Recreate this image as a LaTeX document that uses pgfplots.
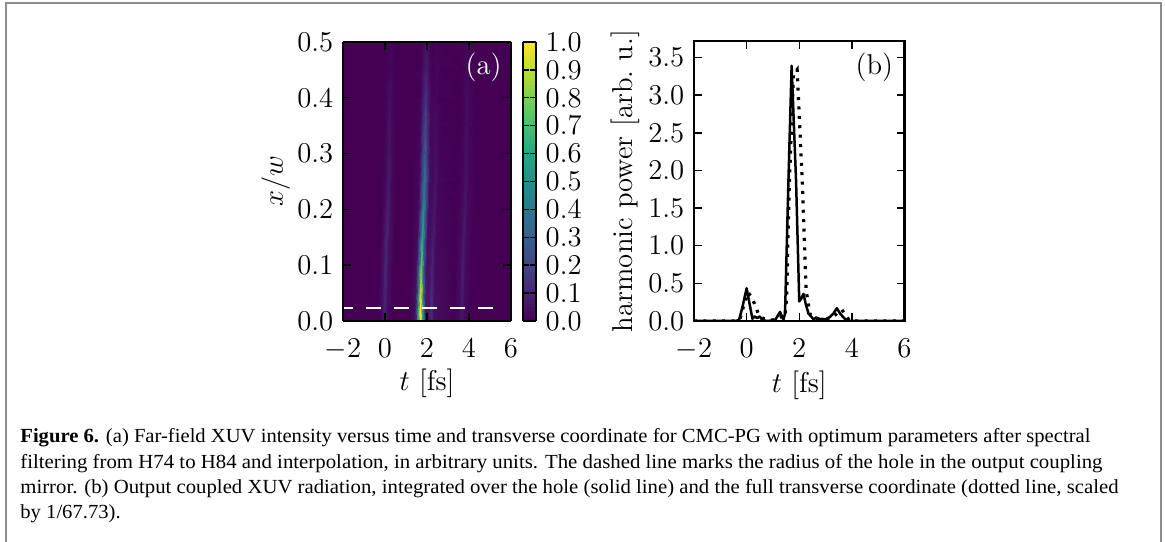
\documentclass[border=0pt]{standalone}
\usepackage{fontspec}
\usepackage{graphicx}
\usepackage{pgfplots}
\pgfplotsset{compat=1.18}
\newfontfamily\capfont{Liberation Serif}
\definecolor{framegray}{RGB}{140,140,140}
\newcommand\axfont{\fontsize{14.4pt}{16pt}\selectfont}
\pgfplotsset{
  colormap={myvir}{rgb255=(68,1,84) rgb255=(72,36,117) rgb255=(65,68,135) rgb255=(53,95,141) rgb255=(42,120,142) rgb255=(33,145,140) rgb255=(34,168,132) rgb255=(68,191,112) rgb255=(122,209,81) rgb255=(189,223,38) rgb255=(253,231,37)},
  every axis/.append style={font=\axfont},
  mystyle/.style={
    scale only axis,
    tick align=inside,
    major tick length=4bp,
    axis line style={line width=1.1bp},
    every tick/.style={line width=0.7bp, black},
    tick label style={font=\axfont, inner sep=1bp},
    label style={font=\axfont},
    xtick={-2,0,2,4,6},
    xticklabel style={yshift=-7.8bp},
  }
}
\newsavebox\capone
\newlength\capw
\begin{document}
\sbox\capone{\capfont\fontsize{10bp}{12bp}\selectfont\textbf{Figure 6.} (a) Far-field XUV intensity versus time and transverse coordinate for CMC-PG with optimum parameters after spectral}%
\setlength\capw{\wd\capone}%
\pgfmathsetmacro\capr{536.99/\capw}%
\begin{tikzpicture}
\useasboundingbox (0,0) rectangle (582.5bp,271bp);
\draw[line width=1bp, framegray] (3bp,-1bp) -- (3bp,269.25bp) -- (580.5bp,269.25bp) -- (580.5bp,-1bp);

% ---------------- panel (a) ----------------
\begin{axis}[mystyle,
  at={(171.5bp,110.5bp)}, anchor=south west,
  width=84bp, height=139.5bp,
  view={0}{90},
  xmin=-2, xmax=6, ymin=0, ymax=0.5,
  ytick={0,0.1,0.2,0.3,0.4,0.5},
  yticklabel style={xshift=-3.7bp, /pgf/number format/.cd,fixed,fixed zerofill,precision=1},
  axis on top,
  colormap name=myvir, point meta min=0, point meta max=1,
  colorbar sampled,
  colorbar style={at={(parent axis.north east)}, anchor=north west, xshift=-2.7bp, width=6.65bp,
    samples=80,
    ytick={0,0.1,0.2,0.3,0.4,0.5,0.6,0.7,0.8,0.9,1.0},
    tick label style={font=\axfont, inner sep=1bp},
    yticklabel style={xshift=3.7bp, /pgf/number format/.cd,fixed,fixed zerofill,precision=1},
    yticklabel pos=right, tick align=inside, major tick length=3bp,
    axis line style={line width=1.1bp},
    every tick/.style={line width=0.7bp, black}},
  xlabel={$t$ [fs]}, ylabel={$x/w$},
  xlabel style={at={(axis description cs:0.5,-0.222)}, anchor=center},
  ylabel style={at={(axis description cs:-0.40,0.5)}, anchor=center},
]
\addplot3[surf, shader=interp, mesh/cols=21, mesh/color input=explicit, point meta=explicit symbolic] table[row sep=\\, x=t, y=x, z=v, meta=c] {
t x v c\\
-2 0 0 rgb255=68,1,84\\ -0.30 0 0 rgb255=68,1,84\\ -0.12 0 0.028 rgb255=69,11,93\\ 0.00 0 0.07 rgb255=71,26,107\\ 0.12 0 0.028 rgb255=69,11,93\\ 0.35 0 0 rgb255=68,1,84\\ 1.20 0 0 rgb255=68,1,84\\ 1.45 0 0.04 rgb255=70,15,97\\ 1.58 0 0.48 rgb255=35,140,140\\ 1.70 0 1.00 rgb255=253,231,37\\ 1.82 0 0.48 rgb255=35,140,140\\ 1.95 0 0.06 rgb255=70,22,104\\ 2.10 0 0.06 rgb255=70,22,104\\ 2.22 0 0.12 rgb255=71,42,121\\ 2.36 0 0.036 rgb255=69,14,96\\ 3.30 0 0 rgb255=68,1,84\\ 3.55 0 0.022 rgb255=69,9,91\\ 3.67 0 0.056 rgb255=70,21,102\\ 3.80 0 0.022 rgb255=69,9,91\\ 4.10 0 0 rgb255=68,1,84\\ 6 0 0 rgb255=68,1,84\\
-2 0.025 0 rgb255=68,1,84\\ -0.29 0.025 0 rgb255=68,1,84\\ -0.11 0.025 0.036 rgb255=69,14,96\\ 0.01 0.025 0.09 rgb255=72,33,114\\ 0.13 0.025 0.036 rgb255=69,14,96\\ 0.36 0.025 0 rgb255=68,1,84\\ 1.21 0.025 0 rgb255=68,1,84\\ 1.46 0.025 0.04 rgb255=70,15,97\\ 1.59 0.025 0.48 rgb255=35,140,140\\ 1.71 0.025 1.00 rgb255=253,231,37\\ 1.83 0.025 0.48 rgb255=35,140,140\\ 1.96 0.025 0.06 rgb255=70,22,104\\ 2.11 0.025 0.065 rgb255=71,24,105\\ 2.23 0.025 0.13 rgb255=70,46,122\\ 2.37 0.025 0.039 rgb255=70,15,97\\ 3.31 0.025 0 rgb255=68,1,84\\ 3.56 0.025 0.028 rgb255=69,11,93\\ 3.68 0.025 0.07 rgb255=71,26,107\\ 3.81 0.025 0.028 rgb255=69,11,93\\ 4.11 0.025 0 rgb255=68,1,84\\ 6 0.025 0 rgb255=68,1,84\\
-2 0.05 0 rgb255=68,1,84\\ -0.28 0.05 0 rgb255=68,1,84\\ -0.10 0.05 0.042 rgb255=70,16,98\\ 0.02 0.05 0.105 rgb255=72,38,118\\ 0.14 0.05 0.042 rgb255=70,16,98\\ 0.37 0.05 0 rgb255=68,1,84\\ 1.22 0.05 0 rgb255=68,1,84\\ 1.47 0.05 0.037 rgb255=69,14,96\\ 1.60 0.05 0.38 rgb255=45,115,142\\ 1.72 0.05 0.92 rgb255=202,225,38\\ 1.84 0.05 0.38 rgb255=45,115,142\\ 1.97 0.05 0.055 rgb255=70,20,102\\ 2.12 0.05 0.06 rgb255=70,22,104\\ 2.24 0.05 0.12 rgb255=71,42,121\\ 2.38 0.05 0.036 rgb255=69,14,96\\ 3.32 0.05 0 rgb255=68,1,84\\ 3.57 0.05 0.031 rgb255=69,12,94\\ 3.69 0.05 0.077 rgb255=71,28,109\\ 3.82 0.05 0.031 rgb255=69,12,94\\ 4.12 0.05 0 rgb255=68,1,84\\ 6 0.05 0 rgb255=68,1,84\\
-2 0.1 0 rgb255=68,1,84\\ -0.25 0.1 0 rgb255=68,1,84\\ -0.07 0.1 0.042 rgb255=70,16,98\\ 0.05 0.1 0.105 rgb255=72,38,118\\ 0.17 0.1 0.042 rgb255=70,16,98\\ 0.40 0.1 0 rgb255=68,1,84\\ 1.25 0.1 0 rgb255=68,1,84\\ 1.50 0.1 0.03 rgb255=69,12,94\\ 1.63 0.1 0.26 rgb255=58,84,139\\ 1.75 0.1 0.74 rgb255=90,198,100\\ 1.87 0.1 0.26 rgb255=58,84,139\\ 2.00 0.1 0.044 rgb255=70,16,99\\ 2.15 0.1 0.05 rgb255=70,19,101\\ 2.27 0.1 0.10 rgb255=72,36,117\\ 2.41 0.1 0.03 rgb255=69,12,94\\ 3.35 0.1 0 rgb255=68,1,84\\ 3.60 0.1 0.031 rgb255=69,12,94\\ 3.72 0.1 0.077 rgb255=71,28,109\\ 3.85 0.1 0.031 rgb255=69,12,94\\ 4.15 0.1 0 rgb255=68,1,84\\ 6 0.1 0 rgb255=68,1,84\\
-2 0.15 0 rgb255=68,1,84\\ -0.20 0.15 0 rgb255=68,1,84\\ -0.02 0.15 0.039 rgb255=70,15,97\\ 0.10 0.15 0.098 rgb255=72,35,116\\ 0.22 0.15 0.039 rgb255=70,15,97\\ 0.45 0.15 0 rgb255=68,1,84\\ 1.30 0.15 0 rgb255=68,1,84\\ 1.55 0.15 0.024 rgb255=69,9,92\\ 1.68 0.15 0.24 rgb255=60,79,137\\ 1.80 0.15 0.60 rgb255=34,168,132\\ 1.92 0.15 0.24 rgb255=60,79,137\\ 2.05 0.15 0.036 rgb255=69,14,96\\ 2.20 0.15 0.04 rgb255=70,15,97\\ 2.32 0.15 0.08 rgb255=71,29,110\\ 2.46 0.15 0.024 rgb255=69,9,92\\ 3.40 0.15 0 rgb255=68,1,84\\ 3.65 0.15 0.028 rgb255=69,11,93\\ 3.77 0.15 0.07 rgb255=71,26,107\\ 3.90 0.15 0.028 rgb255=69,11,93\\ 4.20 0.15 0 rgb255=68,1,84\\ 6 0.15 0 rgb255=68,1,84\\
-2 0.2 0 rgb255=68,1,84\\ -0.14 0.2 0 rgb255=68,1,84\\ 0.04 0.2 0.036 rgb255=69,14,96\\ 0.16 0.2 0.09 rgb255=72,33,114\\ 0.28 0.2 0.036 rgb255=69,14,96\\ 0.51 0.2 0 rgb255=68,1,84\\ 1.36 0.2 0 rgb255=68,1,84\\ 1.61 0.2 0.02 rgb255=69,8,91\\ 1.74 0.2 0.216 rgb255=63,72,136\\ 1.86 0.2 0.48 rgb255=35,140,140\\ 1.98 0.2 0.216 rgb255=63,72,136\\ 2.11 0.2 0.03 rgb255=69,12,94\\ 2.26 0.2 0.03 rgb255=69,12,94\\ 2.38 0.2 0.06 rgb255=70,22,104\\ 2.52 0.2 0.018 rgb255=69,7,90\\ 3.46 0.2 0 rgb255=68,1,84\\ 3.71 0.2 0.025 rgb255=69,10,92\\ 3.83 0.2 0.063 rgb255=71,23,105\\ 3.96 0.2 0.025 rgb255=69,10,92\\ 4.26 0.2 0 rgb255=68,1,84\\ 6 0.2 0 rgb255=68,1,84\\
-2 0.25 0 rgb255=68,1,84\\ -0.10 0.25 0 rgb255=68,1,84\\ 0.08 0.25 0.031 rgb255=69,12,94\\ 0.20 0.25 0.077 rgb255=71,28,109\\ 0.32 0.25 0.031 rgb255=69,12,94\\ 0.55 0.25 0 rgb255=68,1,84\\ 1.40 0.25 0 rgb255=68,1,84\\ 1.65 0.25 0.019 rgb255=69,8,90\\ 1.78 0.25 0.19 rgb255=66,65,133\\ 1.90 0.25 0.38 rgb255=45,115,142\\ 2.02 0.25 0.19 rgb255=66,65,133\\ 2.15 0.25 0.03 rgb255=69,12,94\\ 2.30 0.25 0.025 rgb255=69,10,92\\ 2.42 0.25 0.05 rgb255=70,19,101\\ 2.56 0.25 0.015 rgb255=69,6,89\\ 3.50 0.25 0 rgb255=68,1,84\\ 3.75 0.25 0.02 rgb255=69,8,91\\ 3.87 0.25 0.049 rgb255=70,18,100\\ 4.00 0.25 0.02 rgb255=69,8,91\\ 4.30 0.25 0 rgb255=68,1,84\\ 6 0.25 0 rgb255=68,1,84\\
-2 0.3 0 rgb255=68,1,84\\ -0.08 0.3 0 rgb255=68,1,84\\ 0.10 0.3 0.025 rgb255=69,10,92\\ 0.22 0.3 0.063 rgb255=71,23,105\\ 0.34 0.3 0.025 rgb255=69,10,92\\ 0.57 0.3 0 rgb255=68,1,84\\ 1.42 0.3 0 rgb255=68,1,84\\ 1.67 0.3 0.015 rgb255=69,6,89\\ 1.80 0.3 0.145 rgb255=69,50,125\\ 1.92 0.3 0.29 rgb255=54,92,140\\ 2.04 0.3 0.145 rgb255=69,50,125\\ 2.17 0.3 0.023 rgb255=69,9,92\\ 2.32 0.3 0.02 rgb255=69,8,91\\ 2.44 0.3 0.04 rgb255=70,15,97\\ 2.58 0.3 0.012 rgb255=68,5,88\\ 3.52 0.3 0 rgb255=68,1,84\\ 3.77 0.3 0.017 rgb255=69,7,90\\ 3.89 0.3 0.042 rgb255=70,16,98\\ 4.02 0.3 0.017 rgb255=69,7,90\\ 4.32 0.3 0 rgb255=68,1,84\\ 6 0.3 0 rgb255=68,1,84\\
-2 0.35 0 rgb255=68,1,84\\ -0.06 0.35 0 rgb255=68,1,84\\ 0.12 0.35 0.02 rgb255=69,8,91\\ 0.24 0.35 0.049 rgb255=70,18,100\\ 0.36 0.35 0.02 rgb255=69,8,91\\ 0.59 0.35 0 rgb255=68,1,84\\ 1.44 0.35 0 rgb255=68,1,84\\ 1.69 0.35 0.011 rgb255=68,5,88\\ 1.82 0.35 0.105 rgb255=72,38,118\\ 1.94 0.35 0.21 rgb255=64,71,136\\ 2.06 0.35 0.105 rgb255=72,38,118\\ 2.19 0.35 0.017 rgb255=69,7,90\\ 2.34 0.35 0.015 rgb255=69,6,89\\ 2.46 0.35 0.03 rgb255=69,12,94\\ 2.60 0.35 0.009 rgb255=68,4,87\\ 3.54 0.35 0 rgb255=68,1,84\\ 3.79 0.35 0.014 rgb255=69,6,89\\ 3.91 0.35 0.035 rgb255=69,13,96\\ 4.04 0.35 0.014 rgb255=69,6,89\\ 4.34 0.35 0 rgb255=68,1,84\\ 6 0.35 0 rgb255=68,1,84\\
-2 0.4 0 rgb255=68,1,84\\ -0.04 0.4 0 rgb255=68,1,84\\ 0.14 0.4 0.014 rgb255=69,6,89\\ 0.26 0.4 0.035 rgb255=69,13,96\\ 0.38 0.4 0.014 rgb255=69,6,89\\ 0.61 0.4 0 rgb255=68,1,84\\ 1.46 0.4 0 rgb255=68,1,84\\ 1.71 0.4 0.007 rgb255=68,3,86\\ 1.84 0.4 0.07 rgb255=71,26,107\\ 1.96 0.4 0.14 rgb255=69,49,124\\ 2.08 0.4 0.07 rgb255=71,26,107\\ 2.21 0.4 0.011 rgb255=68,5,88\\ 2.36 0.4 0.01 rgb255=68,5,87\\ 2.48 0.4 0.02 rgb255=69,8,91\\ 2.62 0.4 0.006 rgb255=68,3,86\\ 3.56 0.4 0 rgb255=68,1,84\\ 3.81 0.4 0.011 rgb255=68,5,88\\ 3.93 0.4 0.028 rgb255=69,11,93\\ 4.06 0.4 0.011 rgb255=68,5,88\\ 4.36 0.4 0 rgb255=68,1,84\\ 6 0.4 0 rgb255=68,1,84\\
-2 0.45 0 rgb255=68,1,84\\ -0.02 0.45 0 rgb255=68,1,84\\ 0.16 0.45 0.008 rgb255=68,4,87\\ 0.28 0.45 0.021 rgb255=69,8,91\\ 0.40 0.45 0.008 rgb255=68,4,87\\ 0.63 0.45 0 rgb255=68,1,84\\ 1.48 0.45 0 rgb255=68,1,84\\ 1.73 0.45 0.004 rgb255=68,2,85\\ 1.86 0.45 0.04 rgb255=70,15,97\\ 1.98 0.45 0.08 rgb255=71,29,110\\ 2.10 0.45 0.04 rgb255=70,15,97\\ 2.23 0.45 0.006 rgb255=68,3,86\\ 2.38 0.45 0.01 rgb255=68,5,87\\ 2.50 0.45 0.02 rgb255=69,8,91\\ 2.64 0.45 0.006 rgb255=68,3,86\\ 3.58 0.45 0 rgb255=68,1,84\\ 3.83 0.45 0.008 rgb255=68,4,87\\ 3.95 0.45 0.021 rgb255=69,8,91\\ 4.08 0.45 0.008 rgb255=68,4,87\\ 4.38 0.45 0 rgb255=68,1,84\\ 6 0.45 0 rgb255=68,1,84\\
-2 0.5 0 rgb255=68,1,84\\ 0.00 0.5 0 rgb255=68,1,84\\ 0.18 0.5 0.006 rgb255=68,3,86\\ 0.30 0.5 0.014 rgb255=69,6,89\\ 0.42 0.5 0.006 rgb255=68,3,86\\ 0.65 0.5 0 rgb255=68,1,84\\ 1.50 0.5 0 rgb255=68,1,84\\ 1.75 0.5 0.002 rgb255=68,2,85\\ 1.88 0.5 0.02 rgb255=69,8,91\\ 2.00 0.5 0.04 rgb255=70,15,97\\ 2.12 0.5 0.02 rgb255=69,8,91\\ 2.25 0.5 0.003 rgb255=68,2,85\\ 2.40 0.5 0.005 rgb255=68,3,86\\ 2.52 0.5 0.01 rgb255=68,5,87\\ 2.66 0.5 0.003 rgb255=68,2,85\\ 3.60 0.5 0 rgb255=68,1,84\\ 3.85 0.5 0.006 rgb255=68,3,86\\ 3.97 0.5 0.014 rgb255=69,6,89\\ 4.10 0.5 0.006 rgb255=68,3,86\\ 4.40 0.5 0 rgb255=68,1,84\\ 6 0.5 0 rgb255=68,1,84\\
};
\addplot3[white, line width=1bp, dash pattern=on 7.5bp off 6.5bp, dash phase=2.5bp] coordinates {(-2,0.024,1.5) (5.3,0.024,1.5)};
\node[white, anchor=north east, inner sep=0pt, font=\axfont] at ([xshift=-4.5bp, yshift=-5.5bp]axis description cs:1,1) {(a)};
\end{axis}

% ---------------- panel (b) ----------------
\begin{axis}[mystyle,
  at={(347bp,110.5bp)}, anchor=south west,
  width=105.25bp, height=140bp,
  xmin=-2, xmax=6, ymin=0, ymax=3.72,
  ytick={0,0.5,1,1.5,2,2.5,3,3.5},
  yticklabel style={xshift=-3.7bp, /pgf/number format/.cd,fixed,fixed zerofill,precision=1},
  xlabel={$t$ [fs]}, ylabel={harmonic power [arb.\ u.]},
  xlabel style={at={(axis description cs:0.5,-0.229)}, anchor=center},
  ylabel style={at={(axis description cs:-0.328,0.5)}, anchor=center},
]
\addplot[black, line width=1.25bp, line join=round] coordinates {
(-2,0) (-0.4,0) (-0.28,0.02) (-0.15,0.2) (0,0.435) (0.1,0.25) (0.22,0.03) (0.3,0.06) (0.4,0.04) (0.5,0.06) (0.6,0.01) (0.8,0) (1.0,0.01) (1.1,0.02) (1.2,0.08) (1.27,0.12) (1.35,0.05) (1.40,0.02) (1.46,0.10) (1.58,1.75) (1.71,3.39) (1.88,1.85) (2.0,0.26) (2.08,0.30) (2.16,0.36) (2.25,0.22) (2.35,0.10) (2.45,0.06) (2.55,0.02) (2.65,0.05) (2.75,0.01) (2.85,0.03) (3.0,0.02) (3.15,0.05) (3.3,0.10) (3.43,0.17) (3.55,0.10) (3.7,0.04) (3.8,0.01) (3.95,0) (6,0)
};
\addplot[black, line width=1.6bp, dash pattern=on 1.5bp off 3.2bp] coordinates {
(-2,0) (-0.4,0) (-0.25,0.03) (-0.1,0.22) (0.05,0.38) (0.19,0.32) (0.32,0.21) (0.44,0.10) (0.6,0.04) (0.75,0.02) (0.9,0.01) (1.1,0.02) (1.25,0.05) (1.35,0.06) (1.45,0.05) (1.52,0.30) (1.62,1.8) (1.78,3.28) (1.92,3.34) (2.12,1.81) (2.26,0.41) (2.41,0.09) (2.55,0.06) (2.7,0.03) (2.9,0.02) (3.1,0.03) (3.3,0.06) (3.5,0.12) (3.62,0.15) (3.75,0.08) (3.9,0.01) (4.1,0) (6,0)
};
\node[black, anchor=north east, inner sep=0pt, font=\axfont] at ([xshift=-5.5bp, yshift=-6bp]axis description cs:1,1) {(b)};
\end{axis}

% ---------------- caption ----------------
\node[anchor=base west, inner sep=0pt] at (10bp,49.5bp) {\resizebox{535bp}{\height}{\usebox\capone}};
\node[anchor=base west, inner sep=0pt] at (10bp,37bp) {\resizebox{541bp}{\height}{\capfont\fontsize{10bp}{12bp}\selectfont filtering from H74 to H84 and interpolation, in arbitrary units. The dashed line marks the radius of the hole in the output coupling}};
\node[anchor=base west, inner sep=0pt] at (10bp,24.5bp) {\resizebox{549bp}{\height}{\capfont\fontsize{10bp}{12bp}\selectfont mirror. (b) Output coupled XUV radiation, integrated over the hole (solid line) and the full transverse coordinate (dotted line, scaled}};
\node[anchor=base west, inner sep=0pt] at (10bp,12bp) {\scalebox{\capr}[1]{\capfont\fontsize{10bp}{12bp}\selectfont by 1/67.73).}};
\end{tikzpicture}
\end{document}
